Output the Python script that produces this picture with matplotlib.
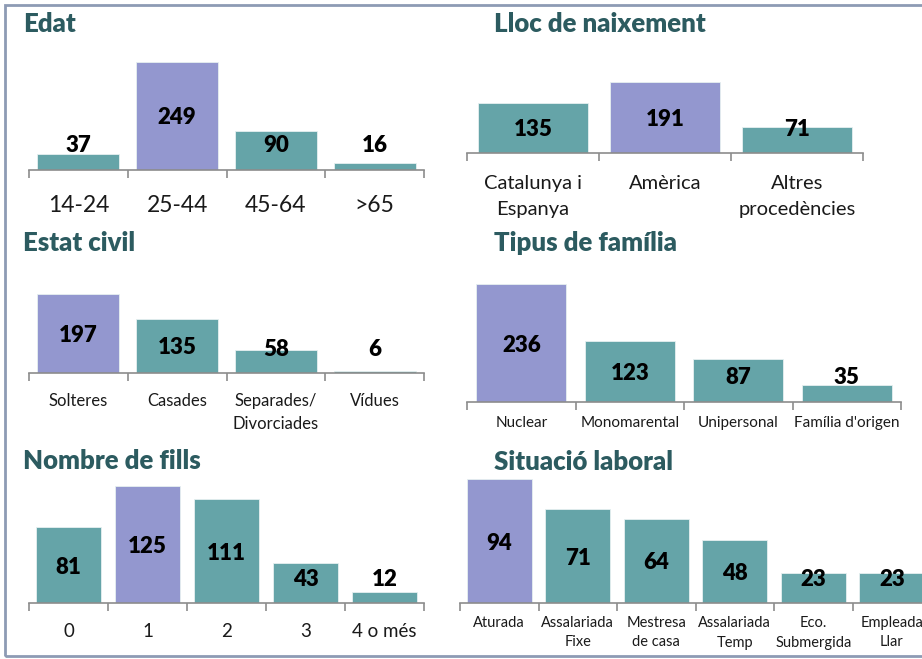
import matplotlib
matplotlib.use("Agg")
import matplotlib.pyplot as plt
import matplotlib.transforms as mtransforms
from matplotlib.patches import Rectangle
import numpy as np

plt.rcParams["font.family"] = ["Lato", "DejaVu Sans"]

edat_cats = ["14-24", "25-44", "45-64", ">65"]
edat_vals = [37, 249, 90, 16]

lloc_cats = ["Catalunya i\nEspanya", "Amèrica", "Altres\nprocedències"]
lloc_vals = [135, 191, 71]

civil_cats = ["Solteres", "Casades", "Separades/\nDivorciades", "Vídues"]
civil_vals = [197, 135, 58, 6]

familia_cats = ["Nuclear", "Monomarental", "Unipersonal", "Família d'origen"]
familia_vals = [236, 123, 87, 35]

fills_cats = ["0", "1", "2", "3", "4 o més"]
fills_vals = [81, 125, 111, 43, 12]

laboral_cats = ["Aturada", "Assalariada\nFixe", "Mestresa\nde casa",
                "Assalariada\nTemp", "Eco.\nSubmergida", "Empleada\nLlar"]
laboral_vals = [94, 71, 64, 48, 23, 23]

TEAL = "#65a4a8"
PURPLE = "#9397cf"
TITLE_COLOR = "#2c5b60"
AXIS_GRAY = "#8c8c8c"

W, H = 922, 659
fig = plt.figure(figsize=(W / 100, H / 100), dpi=100)
fig.patch.set_facecolor("white")

# layout in pixels: left, right, baseline, top of tallest bar, title x, title baseline,
# tick font size, gap below axis, value font size, line spacing
panels = [
    ("Edat", edat_cats, edat_vals, 29, 424, 170, 62, 23, 32, 16.5, 25, 16, 1.2),
    ("Lloc de naixement", lloc_cats, lloc_vals, 467, 863, 153, 82, 494, 32, 14.5, 22, 16, 1.62),
    ("Estat civil", civil_cats, civil_vals, 29, 424, 373, 294, 23, 251, 12, 20, 16, 1.52),
    ("Tipus de família", familia_cats, familia_vals, 467, 901, 402, 284, 494, 251, 11, 14, 16, 1.2),
    ("Nombre de fills", fills_cats, fills_vals, 29, 424, 603, 486, 23, 469, 13.5, 20, 16, 1.2),
    ("Situació laboral", laboral_cats, laboral_vals, 460, 931, 603, 479, 494, 470, 10.5, 13, 16, 1.5),
]

for (title, cats, vals, left, right, base, top, tx, ty, tsize, gap, vsize, lsp) in panels:
    n = len(cats)
    ax = fig.add_axes([left / W, 1 - base / H, (right - left) / W, (base - top) / H])
    vmax = max(vals)
    colors = [PURPLE if v == vmax else TEAL for v in vals]
    x = np.arange(n)
    ax.bar(x, vals, width=0.83, color=colors, edgecolor="#e6f0f0", linewidth=0.6)
    ax.set_xlim(-0.5, n - 0.5)
    ax.set_ylim(0, vmax)
    for s in ["top", "left", "right"]:
        ax.spines[s].set_visible(False)
    ax.spines["bottom"].set_color(AXIS_GRAY)
    ax.spines["bottom"].set_linewidth(1.2)
    ax.set_xticks([])
    ax.set_yticks([])
    ax.set_xticks(np.arange(n + 1) - 0.5, minor=True)
    ax.tick_params(axis="x", which="minor", length=5.5, width=1.2, color=AXIS_GRAY,
                   direction="out", labelbottom=False)
    ax.patch.set_alpha(0)

    # category labels under the axis
    trans = mtransforms.offset_copy(ax.get_xaxis_transform(), fig=fig, y=-gap, units="dots")
    for i, c in enumerate(cats):
        ax.text(i, 0, c, transform=trans, ha="center", va="top", fontsize=tsize,
                color="#1a1a1a", linespacing=lsp, multialignment="center", clip_on=False)

    # value labels: middle of the bar, but not lower than ~26 px above the axis
    floor = 26 * vmax / (base - top)
    for i, v in enumerate(vals):
        ax.text(i, max(v / 2, floor), str(v), ha="center", va="center_baseline",
                fontsize=vsize, fontweight="heavy", color="black", clip_on=False)

    fig.text(tx / W, 1 - ty / H, title, ha="left", va="baseline", fontsize=18.5,
             fontweight="heavy", color=TITLE_COLOR)

# frame around the whole picture (right side runs off the canvas)
fig.add_artist(Rectangle((5 / W, 1 - 656 / H), 1.0, 651 / H, transform=fig.transFigure,
                         fill=False, edgecolor="#8d9bb4", linewidth=2))

fig.savefig("out.png", dpi=100)
